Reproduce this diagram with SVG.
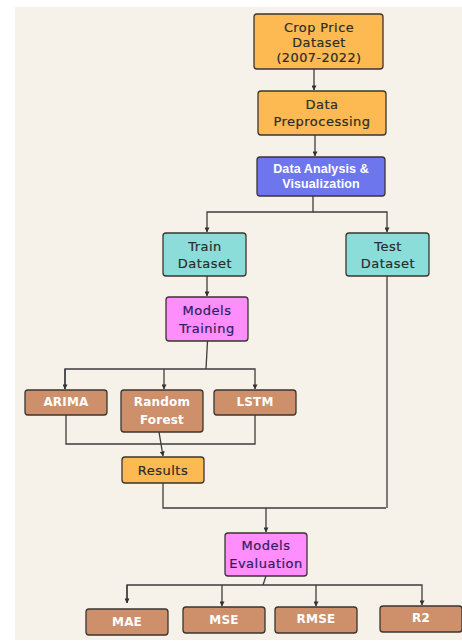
<svg xmlns="http://www.w3.org/2000/svg" width="462" height="641" viewBox="0 0 462 641">
<defs>
<marker id="ah" viewBox="0 0 6 6" refX="5.5" refY="3" markerWidth="5" markerHeight="5" orient="auto" markerUnits="userSpaceOnUse">
<path d="M0,0 L6,3 L0,6 z" fill="#333"/>
</marker>
<style>
.n{stroke:#3a3530;stroke-width:1.3}
.or{fill:#FDB952}
.bl{fill:#6E76EE}
.tl{fill:#8BDDD9}
.pk{fill:#FF8DFB}
.br{fill:#CE8F6B}
text{font-family:"DejaVu Sans","Liberation Sans",sans-serif;font-size:13px;text-anchor:middle;dominant-baseline:central;letter-spacing:0.5px}
.dk{fill:#2b2b2b;stroke:#2b2b2b;stroke-width:0.2}
.pu{fill:#2d2060;stroke:#2d2060;stroke-width:0.2}
.wt{fill:#ffffff;font-weight:bold;font-size:12px;letter-spacing:0.2px}
.wb{fill:#ffffff;font-family:"Liberation Sans",Arial,sans-serif;font-weight:bold;font-size:12.5px;letter-spacing:0.1px}
.sm{font-size:12.8px}
.c{fill:none;stroke:#3d3d3d;stroke-width:1.3}
</style>
</defs>
<rect x="0" y="0" width="462" height="641" fill="#ffffff"/>
<rect x="15" y="7" width="447" height="633" fill="#F6F2EA"/>

<g id="connectors">
<path class="c" d="M314,69 V90" marker-end="url(#ah)"/>
<path class="c" d="M315,135 V156" marker-end="url(#ah)"/>
<path class="c" d="M313,196 V212 H207 V232" marker-end="url(#ah)"/>
<path class="c" d="M313,212 H387 V232" marker-end="url(#ah)"/>
<path class="c" d="M207,276 V296" marker-end="url(#ah)"/>
<path class="c" d="M207.5,341 L206,369"/>
<path class="c" d="M65,389 V369 H255 V389" marker-end="url(#ah)"/>
<path class="c" d="M65,369 V389" marker-end="url(#ah)"/>
<path class="c" d="M164,369 V389" marker-end="url(#ah)"/>
<path class="c" d="M66,415 V444 H255 V415"/>
<path class="c" d="M159,432 L163,456" marker-end="url(#ah)"/>
<path class="c" d="M163,483 V508 H386 M387,276 V508"/>
<path class="c" d="M266,508 V532" marker-end="url(#ah)"/>
<path class="c" d="M266,576 L263,585"/>
<path class="c" d="M127,603 V585 H422 V605" marker-end="url(#ah)"/>
<path class="c" d="M127,585 V603" marker-end="url(#ah)"/>
<path class="c" d="M222,585 V606" marker-end="url(#ah)"/>
<path class="c" d="M316,585 V606" marker-end="url(#ah)"/>
</g>

<g id="crop-price-dataset">
<rect class="n or" x="254" y="14" width="129" height="55" rx="3"/>
<text class="dk sm" x="319" y="27">Crop Price</text>
<text class="dk sm" x="319" y="42">Dataset</text>
<text class="dk sm" x="319" y="57">(2007-2022)</text>
</g>
<g id="data-preprocessing">
<rect class="n or" x="258" y="91" width="128" height="44" rx="3"/>
<text class="dk" x="322" y="104">Data</text>
<text class="dk" x="322" y="121">Preprocessing</text>
</g>
<g id="data-analysis">
<rect class="n bl" x="257" y="157" width="128" height="39" rx="3"/>
<text class="wb" x="321" y="169">Data Analysis &amp;</text>
<text class="wb" x="321" y="184">Visualization</text>
</g>
<g id="train-dataset">
<rect class="n tl" x="163" y="233" width="83" height="43" rx="3"/>
<text class="dk" x="205" y="246">Train</text>
<text class="dk" x="205" y="263">Dataset</text>
</g>
<g id="test-dataset">
<rect class="n tl" x="346" y="233" width="83" height="43" rx="3"/>
<text class="dk" x="388" y="246">Test</text>
<text class="dk" x="388" y="263">Dataset</text>
</g>
<g id="models-training">
<rect class="n pk" x="166" y="297" width="82" height="44" rx="3"/>
<text class="pu" x="207" y="310">Models</text>
<text class="pu" x="207" y="328">Training</text>
</g>
<g id="arima">
<rect class="n br" x="25" y="390" width="82" height="25" rx="3"/>
<text class="wt" x="66" y="402">ARIMA</text>
</g>
<g id="random-forest">
<rect class="n br" x="121" y="390" width="82" height="42" rx="3"/>
<text class="wt" x="162" y="402">Random</text>
<text class="wt" x="162" y="420">Forest</text>
</g>
<g id="lstm">
<rect class="n br" x="214" y="390" width="82" height="25" rx="3"/>
<text class="wt" x="255" y="402">LSTM</text>
</g>
<g id="results">
<rect class="n or" x="122" y="457" width="82" height="26" rx="3"/>
<text class="dk" x="163" y="470">Results</text>
</g>
<g id="models-evaluation">
<rect class="n pk" x="225" y="533" width="82" height="43" rx="3"/>
<text class="pu" x="266" y="545">Models</text>
<text class="pu" x="266" y="563">Evaluation</text>
</g>
<g id="mae">
<rect class="n br" x="86" y="609" width="82" height="26" rx="3"/>
<text class="wt" x="127" y="622">MAE</text>
</g>
<g id="mse">
<rect class="n br" x="183" y="607" width="82" height="26" rx="3"/>
<text class="wt" x="224" y="620">MSE</text>
</g>
<g id="rmse">
<rect class="n br" x="275" y="607" width="82" height="26" rx="3"/>
<text class="wt" x="316" y="619">RMSE</text>
</g>
<g id="r2">
<rect class="n br" x="380" y="606" width="82" height="26" rx="3"/>
<text class="wt" x="421" y="618">R2</text>
</g>
</svg>
